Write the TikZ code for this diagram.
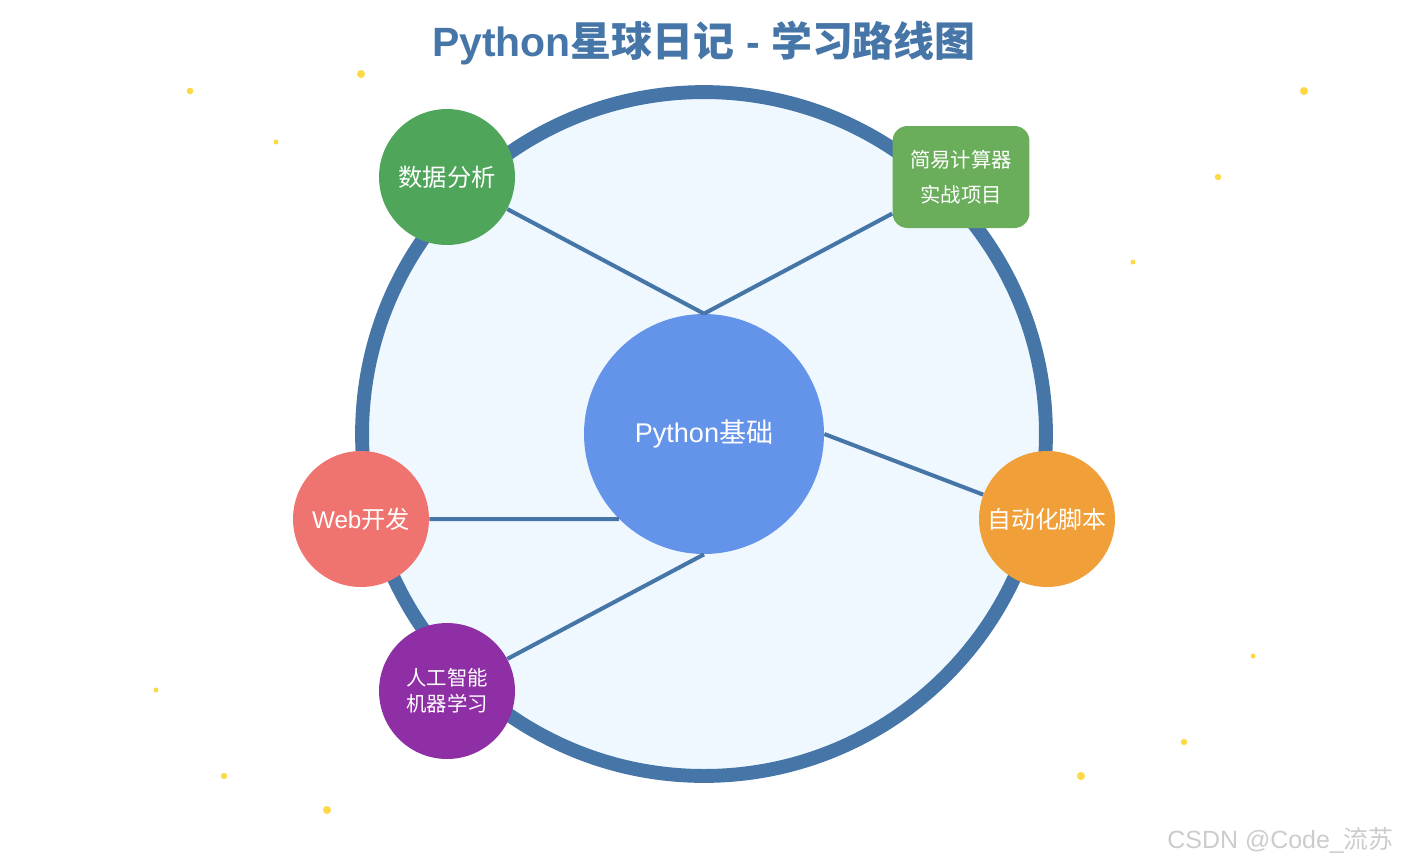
\documentclass[tikz,border=0pt]{standalone}
\usepackage{fontspec}
\setmainfont{Liberation Sans}
\newfontfamily\cjk{Noto Sans CJK SC}
\definecolor{ringblue}{HTML}{4676A8}
\definecolor{planetfill}{HTML}{F0F8FF}
\definecolor{coreblue}{HTML}{6493EA}
\definecolor{datagreen}{HTML}{4FA65B}
\definecolor{projgreen}{HTML}{6AAE5B}
\definecolor{webred}{HTML}{EF746F}
\definecolor{aipurple}{HTML}{8F2FA6}
\definecolor{autoorange}{HTML}{F19F38}
\definecolor{staryellow}{HTML}{FCD945}
\begin{document}
\begin{tikzpicture}[
    x=0.02cm, y=-0.02cm,
    topic/.style={circle, minimum size=2.72cm, inner sep=0pt, text=white, align=center, font=\fontsize{13.8}{16}\selectfont},
    link/.style={draw=ringblue, line width=2.3pt}
]
    \useasboundingbox (0,0) rectangle (1403,867);
    % 背景星星
    \foreach \x/\y/\r in {361/74/4, 190/91/3.3, 276/142/2.5, 1304/91/4, 1218/177/3.2, 1133/262/2.5,
                          1253/656/2.5, 156/690/2.5, 1184/742/3.2, 224/776/3.2, 1081/776/4, 327/810/4}
        \fill[staryellow] (\x,\y) circle[radius=\r];

    \node[font=\fontsize{23.3}{26}\selectfont\bfseries, text=ringblue] (title) at (704,43)
        {Python{\cjk 星球日记} - {\cjk 学习路线图}};

    \node[circle, draw=ringblue, line width=7.9pt, fill=planetfill, minimum size=13.68cm] (planet) at (704,434) {};
    \node[circle, fill=coreblue, minimum size=4.8cm, text=white, font=\fontsize{15.4}{18}\selectfont] (core) at (704,434)
        {Python{\cjk 基础}};

    \node[topic, fill=datagreen] (data) at (447,177) {\cjk 数据分析};
    \node[rounded corners=0.3cm, minimum width=2.74cm, minimum height=2.04cm, fill=projgreen, text=white, align=center,
          font=\fontsize{11.6}{19.8}\selectfont\cjk] (calc) at (961,177) {简易计算器\\实战项目};
    \node[topic, fill=webred] (web) at (361,519) {Web{\cjk 开发}};
    \node[topic, fill=autoorange, font=\fontsize{13.6}{16}\selectfont\cjk] (auto) at (1047,519) {自动化脚本};
    \node[topic, fill=aipurple, font=\fontsize{11.6}{14.7}\selectfont\cjk] (ai) at (447,691) {人工智能\\机器学习};

    \draw[link] (data) -- (core.north);
    \draw[link] (calc) -- (core.north);
    \draw[link] (auto) -- (core.east);
    \draw[link] (web) -- (core.225);
    \draw[link] (ai) -- (core.south);

    \node[anchor=east, text=black!20, font=\fontsize{14.2}{16}\selectfont] (mark) at (1400,840) {CSDN @Code\_{\cjk 流苏}};
\end{tikzpicture}
\end{document}
